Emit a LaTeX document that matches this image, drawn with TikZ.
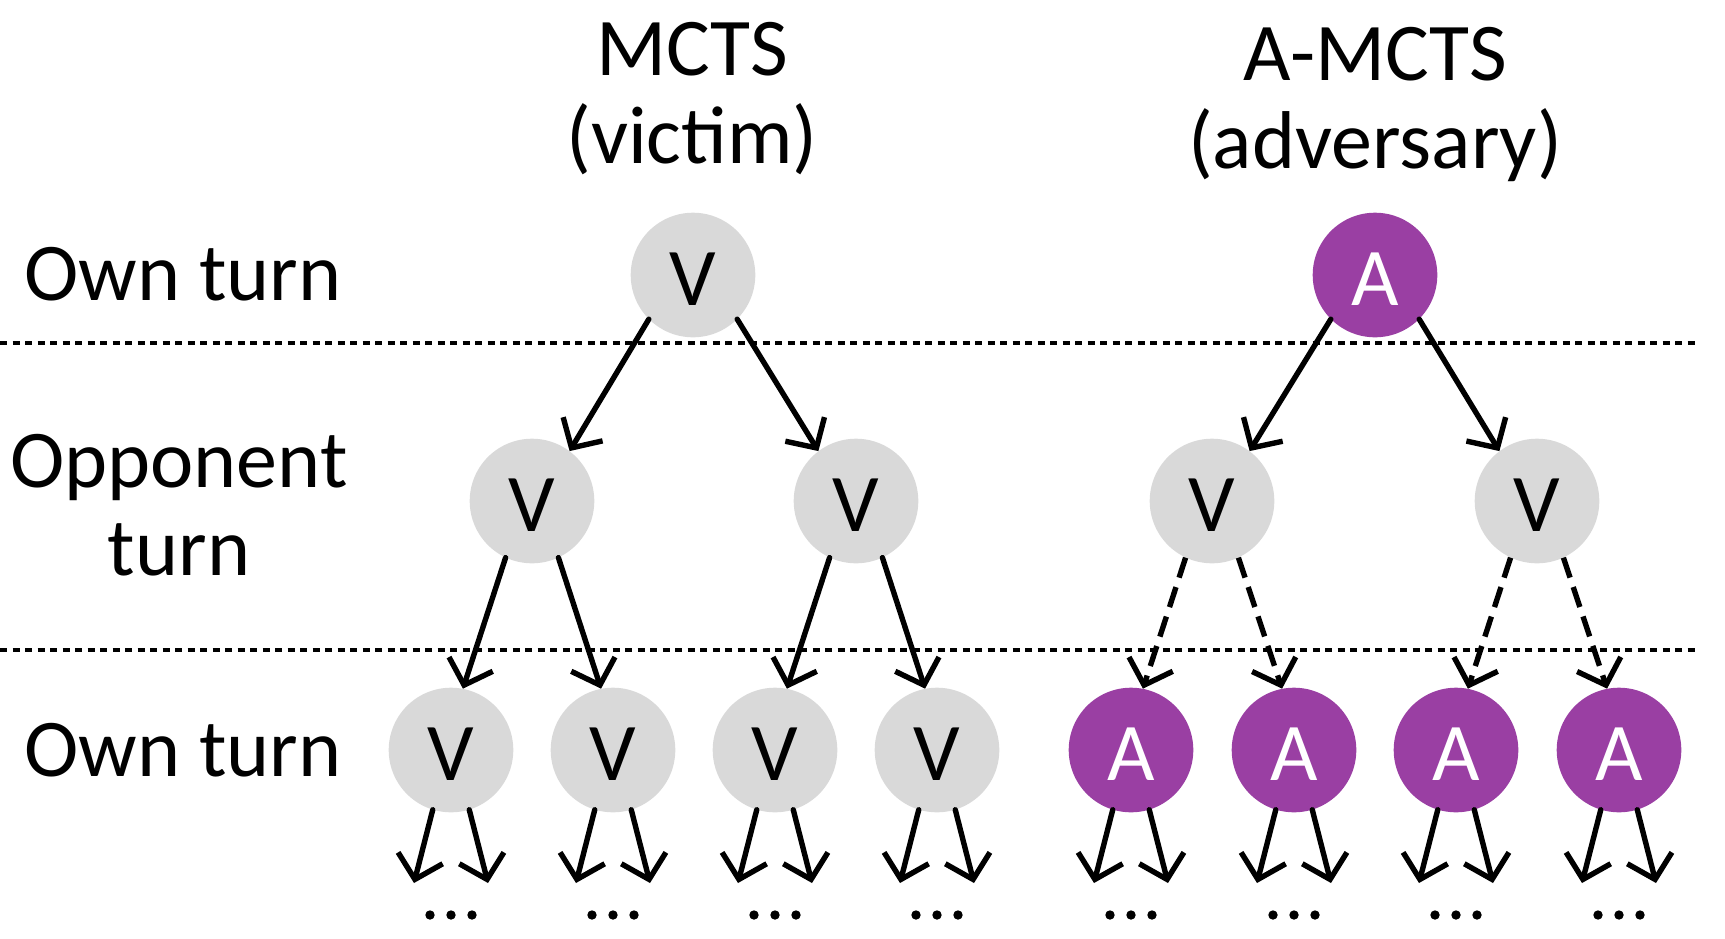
\documentclass[tikz,border=0pt]{standalone}
\usepackage{fontspec}
\setmainfont{Carlito}
\usetikzlibrary{arrows.meta}
\definecolor{vgray}{RGB}{217,217,217}
\definecolor{apurple}{RGB}{154,63,163}
\tikzset{vnode/.style = {circle, fill=vgray, inner sep=0, minimum size=124.6pt,
                         text height=61pt, font=\fontsize{82}{88}\selectfont}}
\tikzset{anode/.style = {vnode, fill=apurple, text=white}}
\tikzset{edge/.style = {line width=5.4pt, line cap=round,
                        -{Straight Barb[length=22pt, width=46pt]}}}
\tikzset{dedge/.style = {edge, line cap=butt, dash pattern=on 21pt off 10pt}}
\tikzset{sep/.style = {line width=3.2pt, dash pattern=on 7pt off 5.5pt}}
\tikzset{lbl/.style = {inner sep=0, align=center, font=\fontsize{82}{88}\selectfont}}

\begin{document}
\begin{tikzpicture}[x=1pt, y=-1pt]
    \useasboundingbox (0, 0) rectangle (1725, 938);

    % titles and row labels
    \node [lbl, anchor=base] (tv) at (692, 163) {MCTS\\(victim)};
    \node [lbl, anchor=base] (ta) at (1375, 168) {A-MCTS\\(adversary)};
    \node [lbl, anchor=base] (own1) at (183, 300) {Own turn};
    \node [lbl, anchor=base] (opp) at (179, 575) {Opponent\\turn};
    \node [lbl, anchor=base] (own2) at (183, 776) {Own turn};

    \draw [sep] (0, 343) -- (1698, 343);
    \draw [sep] (0, 650) -- (1698, 650);

    % victim tree
    \node [vnode] (mv) at (693, 275) {V};
    \node [vnode] (mv1) at (532, 501) {V};
    \node [vnode] (mv2) at (856, 501) {V};
    \node [vnode] (mv11) at (451, 750) {V};
    \node [vnode] (mv12) at (613, 750) {V};
    \node [vnode] (mv21) at (775, 750) {V};
    \node [vnode] (mv22) at (937, 750) {V};

    \draw [edge] (mv.225) -- (mv1.53);
    \draw [edge] (mv.315) -- (mv2.127);
    \draw [edge] (mv1.245) -- (mv11.79);
    \draw [edge] (mv1.295) -- (mv12.101);
    \draw [edge] (mv2.245) -- (mv21.79);
    \draw [edge] (mv2.295) -- (mv22.101);

    % adversary tree
    \node [anode] (aa) at (1375, 275) {A};
    \node [vnode] (av1) at (1212, 501) {V};
    \node [vnode] (av2) at (1537, 501) {V};
    \node [anode] (aa11) at (1131, 750) {A};
    \node [anode] (aa12) at (1294, 750) {A};
    \node [anode] (aa21) at (1456, 750) {A};
    \node [anode] (aa22) at (1619, 750) {A};

    \draw [edge] (aa.225) -- (av1.53);
    \draw [edge] (aa.315) -- (av2.127);
    \draw [dedge] (av1.245) -- (aa11.79);
    \draw [dedge] (av1.295) -- (aa12.101);
    \draw [dedge] (av2.245) -- (aa21.79);
    \draw [dedge] (av2.295) -- (aa22.101);

    % rest of the search below the leaves
    \foreach \n in {mv11, mv12, mv21, mv22, aa11, aa12, aa21, aa22} {
      \coordinate (\n-l) at ([shift={(-37, 133)}]\n.center);
      \coordinate (\n-r) at ([shift={(37, 133)}]\n.center);
      \draw [edge] (\n.253) -- (\n-l);
      \draw [edge] (\n.287) -- (\n-r);
      \fill ([shift={(-21, 165)}]\n.center) circle (4.7pt);
      \fill ([shift={(0, 165)}]\n.center) circle (4.7pt);
      \fill ([shift={(21, 165)}]\n.center) circle (4.7pt);
    }
  \end{tikzpicture}
\end{document}
